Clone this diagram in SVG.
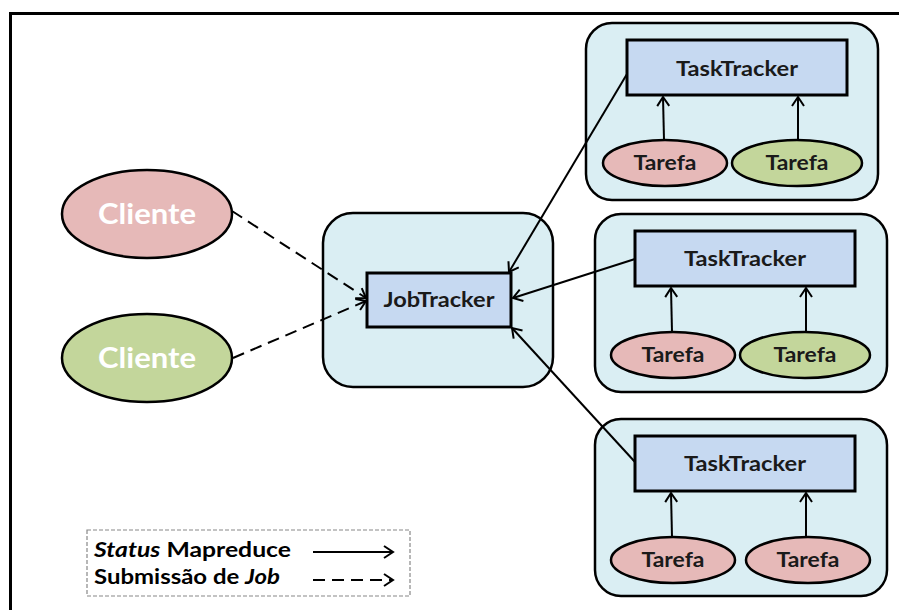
<svg xmlns="http://www.w3.org/2000/svg" width="899" height="610" viewBox="0 0 899 610">
<defs>
<style>
.frame{fill:none;stroke:#000;stroke-width:3}
.cont{fill:#DAEEF3;stroke:#000;stroke-width:2.5}
.box{fill:#C6D9F1;stroke:#000;stroke-width:3}
.pink{fill:#E6B9B8;stroke:#000;stroke-width:2.5}
.green{fill:#C3D69B;stroke:#000;stroke-width:2.5}
.lbl{font-family:Lato,"Liberation Sans",sans-serif;font-weight:700;fill:#1a1a1a;text-anchor:middle;font-size:21px}
.cl{font-family:Lato,"Liberation Sans",sans-serif;font-weight:700;fill:#fff;text-anchor:middle;font-size:29px}
.leg{font-family:Lato,"Liberation Sans",sans-serif;font-weight:700;fill:#000;font-size:20px}
.solid{fill:none;stroke:#000;stroke-width:2;marker-end:url(#ah)}
.dash{fill:none;stroke:#000;stroke-width:2;stroke-dasharray:12 7;marker-end:url(#ah)}
</style>
<marker id="ah" markerUnits="userSpaceOnUse" markerWidth="14" markerHeight="16" refX="11" refY="7" orient="auto">
<path d="M2,1 L11,7 L2,13" fill="none" stroke="#000" stroke-width="2"/>
</marker>
</defs>
<path class="frame" d="M10.5,640 V13.5 H920"/>

<g id="jobtracker-group">
<rect class="cont" x="323" y="213" width="230" height="174" rx="30"/>
</g>
<g id="jobtracker">
<rect class="box" x="367" y="273" width="144" height="54"/>
<text class="lbl" x="439" y="307" textLength="111" lengthAdjust="spacingAndGlyphs">JobTracker</text>
</g>

<g id="cliente1">
<ellipse class="pink" cx="147" cy="214" rx="85" ry="44"/>
<text class="cl" x="147" y="224" textLength="98" lengthAdjust="spacingAndGlyphs">Cliente</text>
</g>
<g id="cliente2">
<ellipse class="green" cx="147" cy="358" rx="85" ry="44"/>
<text class="cl" x="147" y="368" textLength="98" lengthAdjust="spacingAndGlyphs">Cliente</text>
</g>

<g id="node1">
<rect class="cont" x="586" y="23" width="292" height="177" rx="26"/>
<rect class="box" x="627" y="40" width="220" height="55"/>
<text class="lbl" x="737" y="76" textLength="122" lengthAdjust="spacingAndGlyphs">TaskTracker</text>
<ellipse class="pink" cx="665" cy="163" rx="62" ry="23"/>
<text class="lbl" x="665" y="170" textLength="63" lengthAdjust="spacingAndGlyphs">Tarefa</text>
<ellipse class="green" cx="797" cy="163" rx="65" ry="23"/>
<text class="lbl" x="797" y="170" textLength="63" lengthAdjust="spacingAndGlyphs">Tarefa</text>
</g>

<g id="node2">
<rect class="cont" x="595" y="214" width="292" height="178" rx="26"/>
<rect class="box" x="635" y="231" width="220" height="55"/>
<text class="lbl" x="745" y="266" textLength="122" lengthAdjust="spacingAndGlyphs">TaskTracker</text>
<ellipse class="pink" cx="673" cy="355" rx="62" ry="23"/>
<text class="lbl" x="673" y="362" textLength="63" lengthAdjust="spacingAndGlyphs">Tarefa</text>
<ellipse class="green" cx="805" cy="355" rx="65" ry="23"/>
<text class="lbl" x="805" y="362" textLength="63" lengthAdjust="spacingAndGlyphs">Tarefa</text>
</g>

<g id="node3">
<rect class="cont" x="595" y="419" width="292" height="177" rx="26"/>
<rect class="box" x="635" y="436" width="220" height="55"/>
<text class="lbl" x="745" y="471" textLength="122" lengthAdjust="spacingAndGlyphs">TaskTracker</text>
<ellipse class="pink" cx="673" cy="560" rx="62" ry="23"/>
<text class="lbl" x="673" y="567" textLength="63" lengthAdjust="spacingAndGlyphs">Tarefa</text>
<ellipse class="pink" cx="808" cy="560" rx="62" ry="23"/>
<text class="lbl" x="808" y="567" textLength="63" lengthAdjust="spacingAndGlyphs">Tarefa</text>
</g>

<g id="connectors">
<line class="dash" x1="232" y1="211" x2="366" y2="298"/>
<line class="dash" x1="233" y1="358" x2="366" y2="301"/>
<line class="solid" x1="627" y1="74" x2="509" y2="272"/>
<line class="solid" x1="635" y1="259" x2="513" y2="298"/>
<line class="solid" x1="635" y1="462" x2="512" y2="328"/>
<line class="solid" x1="664" y1="140" x2="663" y2="97"/>
<line class="solid" x1="798" y1="140" x2="798" y2="97"/>
<line class="solid" x1="672" y1="332" x2="671" y2="288"/>
<line class="solid" x1="806" y1="332" x2="806" y2="288"/>
<line class="solid" x1="672" y1="537" x2="671" y2="493"/>
<line class="solid" x1="806" y1="537" x2="806" y2="493"/>
</g>

<g id="legend">
<rect x="87" y="530" width="323" height="66" fill="none" stroke="#888" stroke-width="1.2" stroke-dasharray="4 2"/>
<text class="leg" x="94" y="557" textLength="197" lengthAdjust="spacingAndGlyphs"><tspan font-style="italic">Status</tspan> Mapreduce</text>
<text class="leg" x="94" y="584" textLength="186" lengthAdjust="spacingAndGlyphs">Submissão de <tspan font-style="italic">Job</tspan></text>
<line class="solid" x1="313" y1="552" x2="393" y2="552"/>
<line class="dash" x1="313" y1="580" x2="393" y2="580"/>
</g>
</svg>
